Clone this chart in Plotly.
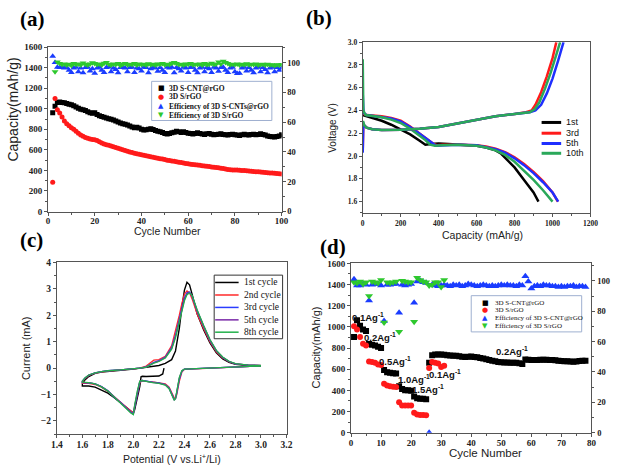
import plotly.graph_objects as go

W, H = 619, 470

# ---------------- Panel (a) data ----------------
a_cycles = list(range(2, 101))
a_cnt_cap = [960, 1025, 1060, 1065, 1062, 1058, 1052, 1045, 1038, 1030,
             1018, 1005, 995, 990, 982, 970, 960, 955, 962, 945,
             932, 925, 918, 910, 902, 898, 890, 882, 872, 862,
             855, 848, 842, 832, 822, 815, 820, 812, 800, 792,
             795, 800, 806, 798, 788, 782, 775, 768, 760, 755,
             760, 766, 772, 780, 776, 770, 776, 770, 762, 758,
             755, 760, 766, 760, 754, 750, 756, 760, 752, 746,
             750, 752, 756, 750, 746, 744, 750, 752, 746, 744,
             740, 746, 752, 746, 744, 750, 752, 746, 750, 756,
             750, 744, 736, 730, 728, 724, 730, 736, 746]
a_srgo_cap = [285, 1100, 990, 958, 920, 882, 855, 835, 815, 800,
              782, 762, 745, 732, 720, 712, 705, 700, 698, 690,
              680, 666, 656, 650, 645, 638, 630, 622, 615, 608,
              600, 593, 587, 580, 574, 568, 563, 558, 553, 548,
              543, 538, 533, 528, 523, 518, 514, 510, 505, 500,
              496, 492, 488, 484, 480, 476, 472, 468, 464, 461,
              458, 455, 452, 449, 446, 443, 440, 437, 434, 431,
              428, 425, 422, 419, 414, 410, 407, 404, 405, 404,
              402, 400, 398, 396, 394, 392, 390, 388, 386, 384,
              382, 380, 378, 376, 374, 372, 370, 368, 366]
a_cnt_eff = [104.4, 100.2, 97, 96.8, 97, 96.5, 96.8, 95, 93.5, 96.5,
             97, 94, 96.5, 93.2, 96.8, 97, 94.5, 96, 93, 96.5,
             97, 95, 93.5, 96.8, 97.2, 94, 96.5, 95.5, 93.2, 96.8,
             97, 96.5, 94, 96.8, 97, 93.5, 96.5, 96, 94.5, 97,
             96.8, 93.2, 96, 97, 96.5, 94.2, 96.8, 95, 93.5, 97,
             96.5, 97, 93.2, 96.8, 96, 94.5, 97, 96.5, 93.5, 96.8,
             97, 95, 93.2, 96.5, 97, 94, 96.8, 96, 93.5, 97,
             96.5, 94.2, 96.8, 97, 95, 93.5, 96.5, 97, 94, 92.8,
             93, 96.5, 97, 94.5, 96.8, 95, 93.2, 96.5, 97, 94,
             96.8, 95.5, 93.2, 96.5, 97, 94, 96.8, 95, 96.5]
a_srgo_eff_cycles = list(range(3, 101))
a_srgo_eff = [94, 100.5, 99.5, 98.8, 99.2, 98.5, 99, 98.2, 99.5, 98.8,
              99.2, 98.5, 99.8, 99, 98.4, 99.2, 100, 99.5, 98.8, 99.2,
              98.5, 99.6, 100.2, 99, 98.4, 99.2, 98.8, 99.5, 98.2, 99,
              99.4, 98.6, 99, 98.8, 99.5, 98.4, 99.2, 98.8, 99, 98.5,
              99.3, 98.7, 99, 98.4, 99.2, 98.9, 99.5, 98.6, 99, 98.8,
              99.6, 100.2, 99.4, 98.8, 99, 98.4, 99.2, 98.9, 99.4, 98.6,
              99, 98.8, 99.2, 98.5, 99.4, 98.7, 99, 99.6, 98.8, 99.2,
              100.4, 99.2, 101, 100.2, 99.5, 98.6, 99, 98.8, 99.2, 98.5,
              99, 98.7, 99.3, 98.6, 99, 98.8, 99.2, 98.5, 98.8, 99,
              98.4, 98.9, 98.5, 98.7, 98.2, 98.6, 98.4, 98.8]
a_names = ["3D S-CNT@rGO", "3D S/rGO", "Efficiency of 3D S-CNTs@rGO", "Efficiency of 3D S/rGO"]

# ---------------- Panel (b) data ----------------
b_names = ["1st", "3rd", "5th", "10th"]
b_dis_cap = {
    "1st": [0, 50, 100, 150, 200, 250, 300, 330, 360, 400, 450, 500, 550, 600, 650, 700, 730, 760, 800, 850, 900, 926],
    "3rd": [0, 4, 20, 60, 100, 150, 200, 250, 300, 340, 370, 390, 420, 500, 600, 650, 700, 750, 800, 850, 900, 950, 1000, 1028],
    "5th": [0, 4, 20, 60, 100, 150, 200, 250, 300, 340, 370, 385, 420, 500, 600, 650, 700, 750, 800, 850, 900, 950, 1000, 1030],
    "10th": [0, 3, 15, 60, 100, 150, 200, 250, 300, 330, 355, 380, 420, 500, 600, 650, 700, 750, 800, 850, 900, 950, 1000],
}
b_dis_v = {
    "1st": [2.36, 2.335, 2.31, 2.275, 2.235, 2.19, 2.135, 2.10, 2.105, 2.11, 2.105, 2.10, 2.095, 2.09, 2.075, 2.05, 2.02, 1.97, 1.90, 1.79, 1.68, 1.60],
    "3rd": [2.42, 2.37, 2.36, 2.355, 2.35, 2.335, 2.31, 2.26, 2.2, 2.15, 2.11, 2.095, 2.1, 2.1, 2.095, 2.085, 2.065, 2.035, 1.99, 1.93, 1.86, 1.78, 1.68, 1.60],
    "5th": [2.55, 2.38, 2.36, 2.35, 2.345, 2.33, 2.305, 2.255, 2.195, 2.15, 2.11, 2.09, 2.095, 2.1, 2.095, 2.08, 2.06, 2.03, 1.98, 1.92, 1.85, 1.77, 1.68, 1.60],
    "10th": [2.85, 2.40, 2.36, 2.35, 2.34, 2.32, 2.29, 2.24, 2.18, 2.14, 2.10, 2.09, 2.095, 2.1, 2.09, 2.075, 2.05, 2.01, 1.95, 1.87, 1.79, 1.70, 1.60],
}
b_chg_cap = {
    "3rd": [0, 3, 8, 20, 50, 100, 200, 300, 400, 500, 600, 700, 800, 860, 890, 910, 940, 970, 1000, 1020],
    "5th": [0, 3, 8, 20, 50, 100, 200, 300, 400, 500, 600, 700, 800, 880, 910, 940, 970, 1000, 1030, 1058],
    "10th": [0, 3, 8, 20, 50, 100, 200, 300, 400, 500, 600, 700, 800, 880, 905, 930, 960, 990, 1020, 1040],
}
b_chg_v = {
    "3rd": [2.05, 2.28, 2.27, 2.25, 2.235, 2.228, 2.232, 2.24, 2.255, 2.285, 2.32, 2.35, 2.37, 2.385, 2.40, 2.45, 2.56, 2.7, 2.86, 3.0],
    "5th": [2.03, 2.29, 2.27, 2.25, 2.235, 2.228, 2.232, 2.24, 2.255, 2.285, 2.32, 2.35, 2.37, 2.385, 2.40, 2.45, 2.55, 2.68, 2.84, 3.0],
    "10th": [2.30, 2.30, 2.27, 2.25, 2.235, 2.228, 2.232, 2.24, 2.255, 2.285, 2.32, 2.35, 2.37, 2.385, 2.41, 2.47, 2.59, 2.73, 2.89, 3.0],
}

# ---------------- Panel (c) data ----------------
c_names = ["1st cycle", "2nd cycle", "3rd cycle", "5th cycle", "8th cycle"]
c_first_pot = [2.24, 2.23, 2.2, 2.15, 2.1, 2.07, 2.06, 2.05, 2.03, 2.01, 2.0, 1.98, 1.95, 1.9, 1.85, 1.8, 1.75, 1.7, 1.65, 1.6,
               1.6, 1.62, 1.65, 1.7, 1.75, 1.8, 1.9, 2.0, 2.1, 2.2, 2.25, 2.3, 2.33, 2.36, 2.38, 2.4, 2.42, 2.44, 2.46, 2.5,
               2.55, 2.6, 2.65, 2.7, 2.75, 2.8, 2.9, 3.0]
c_first_cur = [0.0, -0.22, -0.3, -0.32, -0.32, -0.31, -0.33, -0.7, -1.2, -1.58, -1.7, -1.62, -1.5, -1.3, -1.12, -0.95, -0.82, -0.72, -0.68, -0.68,
               -0.6, -0.45, -0.32, -0.2, -0.15, -0.12, -0.08, -0.04, 0.02, 0.1, 0.18, 0.32, 0.65, 1.5, 2.3, 2.95, 3.25, 3.15, 2.8, 2.05,
               1.45, 0.95, 0.58, 0.35, 0.22, 0.14, 0.1, 0.1]
c_cath_pot = [3.0, 2.9, 2.8, 2.7, 2.6, 2.5, 2.45, 2.4, 2.38, 2.36, 2.34, 2.33, 2.32, 2.3, 2.28, 2.25, 2.2, 2.15, 2.1, 2.07, 2.05,
              2.03, 2.01, 2.0, 1.98, 1.95, 1.9, 1.85, 1.8, 1.75, 1.7, 1.65, 1.6]
c_anod_pot = [1.6, 1.62, 1.65, 1.7, 1.75, 1.8, 1.9, 2.0, 2.05, 2.1, 2.13, 2.16, 2.2, 2.25, 2.3, 2.33, 2.36, 2.38, 2.4, 2.42, 2.44,
              2.46, 2.5, 2.55, 2.6, 2.65, 2.7, 2.75, 2.8, 2.9, 3.0]
c_cath_cur = {
    "2nd cycle": [0.08, 0.06, 0.04, 0.02, 0.0, -0.01, -0.02, -0.05, -0.15, -0.5, -1.0, -1.15, -1.12, -0.9, -0.72, -0.6, -0.55, -0.52, -0.5, -0.48, -0.55,
                  -1.0, -1.5, -1.7, -1.62, -1.5, -1.28, -1.08, -0.88, -0.72, -0.62, -0.58, -0.58],
    "3rd cycle": [0.08, 0.06, 0.04, 0.02, 0.0, -0.01, -0.02, -0.04, -0.12, -0.42, -0.95, -1.15, -1.18, -0.95, -0.75, -0.62, -0.56, -0.53, -0.5, -0.47, -0.52,
                  -0.95, -1.45, -1.72, -1.66, -1.52, -1.3, -1.1, -0.86, -0.7, -0.6, -0.56, -0.55],
    "5th cycle": [0.08, 0.06, 0.04, 0.02, 0.0, -0.01, -0.02, -0.04, -0.1, -0.38, -0.9, -1.15, -1.2, -0.98, -0.77, -0.63, -0.57, -0.54, -0.5, -0.47, -0.5,
                  -0.9, -1.42, -1.74, -1.68, -1.54, -1.32, -1.1, -0.86, -0.7, -0.6, -0.55, -0.54],
    "8th cycle": [0.08, 0.06, 0.04, 0.02, 0.0, -0.01, -0.02, -0.04, -0.1, -0.35, -0.88, -1.15, -1.22, -1.0, -0.78, -0.64, -0.58, -0.55, -0.51, -0.47, -0.5,
                  -0.88, -1.4, -1.76, -1.7, -1.56, -1.34, -1.12, -0.87, -0.71, -0.6, -0.55, -0.53],
}
c_anod_cur = {
    "2nd cycle": [-0.52, -0.4, -0.28, -0.19, -0.14, -0.11, -0.07, -0.03, 0.0, 0.08, 0.2, 0.3, 0.32, 0.45, 0.85, 1.4, 2.0, 2.45, 2.8, 2.92, 2.85,
                  2.62, 2.05, 1.5, 1.0, 0.62, 0.38, 0.24, 0.16, 0.11, 0.09],
    "3rd cycle": [-0.5, -0.38, -0.27, -0.18, -0.13, -0.1, -0.07, -0.03, 0.0, 0.05, 0.14, 0.22, 0.28, 0.42, 0.78, 1.25, 1.85, 2.3, 2.65, 2.85, 2.88,
                  2.72, 2.15, 1.58, 1.05, 0.65, 0.4, 0.25, 0.16, 0.11, 0.09],
    "5th cycle": [-0.5, -0.38, -0.26, -0.18, -0.13, -0.1, -0.07, -0.03, 0.0, 0.04, 0.12, 0.2, 0.26, 0.4, 0.74, 1.2, 1.8, 2.25, 2.6, 2.82, 2.86,
                  2.74, 2.18, 1.6, 1.07, 0.66, 0.41, 0.25, 0.16, 0.11, 0.09],
    "8th cycle": [-0.5, -0.37, -0.26, -0.18, -0.13, -0.1, -0.07, -0.03, 0.0, 0.04, 0.11, 0.19, 0.25, 0.38, 0.72, 1.15, 1.75, 2.2, 2.55, 2.78, 2.84,
                  2.75, 2.2, 1.62, 1.08, 0.67, 0.42, 0.26, 0.17, 0.11, 0.09],
}

# ---------------- Panel (d) data ----------------
d_cycles = list(range(1, 79))
d_cnt_cap = [905, 1062, 1010, 975, 960, 838, 832, 825, 812, 800,
             592, 572, 566, 562, 560, 440, 412, 402, 400, 396,
             342, 326, 320, 320, 316, 660, 732, 740, 740, 738,
             736, 733, 730, 728, 726, 722, 718, 716, 718, 720,
             716, 712, 706, 700, 694, 686, 680, 674, 668, 666,
             664, 664, 662, 660, 660, 656, 650, 692, 690, 686,
             686, 688, 690, 690, 690, 688, 686, 684, 680, 678,
             676, 674, 672, 670, 672, 678, 680, 680]
d_srgo_cycles = list(range(1, 32))
d_srgo_cap = [1005, 975, 905, 840, 825, 672, 668, 660, 645, 640,
              462, 445, 438, 435, 432, 288, 258, 256, 256, 258,
              188, 172, 168, 168, 166, 612, 668, 660, 655, 622, 632]
d_cnt_eff = [101, 97, 97, 98, 97.5, 87, 97.5, 98, 98, 97,
             73.5, 97.5, 97.5, 98, 98, 79, 97.5, 97, 97.5, 98,
             85.5, 99.5, 100, 99, 98.5, 0, 97.5, 97, 96.5, 97,
             97.5, 97, 96.5, 97.5, 97, 97.5, 96.5, 97, 98, 97.5,
             97, 96.5, 97, 97.5, 97, 96.5, 97, 96.5, 97, 97.5,
             97, 97.5, 97, 97, 96.5, 97.5, 97, 103, 99.5, 95,
             96.5, 97, 96.5, 97.5, 97, 97, 96.5, 96.5, 96, 96.5,
             96, 96.5, 96.5, 97, 96, 96.5, 96.5, 96]
d_srgo_eff = [99, 98.5, 99.5, 98, 99, 90, 99.5, 99, 98.5, 100.5,
              72.5, 99, 98.5, 99, 99.5, 66.5, 100, 99.5, 99, 99,
              73, 102, 100.5, 99.5, 99, 97, 97.5, 99, 99, 96, 100.5]
d_names = ["3D S-CNT@rGO", "3D S/rGO", "Efficiency of 3D S-CNT@rGO", "Efficiency of 3D S/rGO"]
d_rate_labels = ["0.1Ag<sup>-1</sup>", "0.2Ag<sup>-1</sup>", "0.5Ag<sup>-1</sup>", "1.0Ag<sup>-1</sup>",
                 "1.5Ag<sup>-1</sup>", "0.1Ag<sup>-1</sup>", "0.2Ag<sup>-1</sup>"]
d_rate_label_pos = [(5.8, 1095), (9.5, 900), (14.8, 682), (20.9, 512), (25.7, 414), (31.3, 558), (53.6, 775)]

# ---------------- styling ----------------
BLACK, RED, BLUE, GREEN = "#000000", "#ff1a1a", "#1a3cff", "#2ec82e"
B_COLORS = {"1st": "#000000", "3rd": "#ff1a1a", "5th": "#1f2fff", "10th": "#2aa85a"}
C_COLORS = {"1st cycle": "#000000", "2nd cycle": "#ff2a2a", "3rd cycle": "#2a3cff",
            "5th cycle": "#7a2aa8", "8th cycle": "#22b04a"}
AXC = "#555555"
SERIF = "Liberation Serif"
SANS = "Liberation Sans"


def px(x):
    return x / W


def py(y):
    return 1 - y / H


def dom_x(l, r):
    return [px(l), px(r)]


def dom_y(t, b):
    return [py(b), py(t)]


def axis(domain, rng, anchor, dtick, fsize, minor=None, fmt=None, **kw):
    d = dict(domain=domain, range=rng, anchor=anchor, dtick=dtick, tick0=0,
             showline=True, linecolor=AXC, linewidth=1, mirror=True,
             ticks="outside", ticklen=3, tickcolor=AXC, tickwidth=1,
             showgrid=False, zeroline=False,
             tickfont=dict(family=SERIF, size=fsize, color="#222", weight="bold"))
    if minor:
        d["minor"] = dict(dtick=minor, ticks="outside", ticklen=2, tickcolor=AXC, showgrid=False)
    if fmt:
        d["tickformat"] = fmt
    d.update(kw)
    return d


fig = go.Figure()

# ---- (a) traces ----
fig.add_trace(go.Scatter(x=a_cycles, y=a_cnt_cap, mode="markers", name=a_names[0],
                         marker=dict(symbol="square", size=5, color=BLACK), xaxis="x", yaxis="y"))
fig.add_trace(go.Scatter(x=a_cycles, y=a_srgo_cap, mode="markers", name=a_names[1],
                         marker=dict(symbol="circle", size=5, color=RED), xaxis="x", yaxis="y"))
fig.add_trace(go.Scatter(x=a_cycles, y=a_cnt_eff, mode="markers", name=a_names[2],
                         marker=dict(symbol="triangle-up", size=6, color=BLUE), xaxis="x", yaxis="y2"))
fig.add_trace(go.Scatter(x=a_srgo_eff_cycles, y=a_srgo_eff, mode="markers", name=a_names[3],
                         marker=dict(symbol="triangle-down", size=6, color=GREEN), xaxis="x", yaxis="y2"))

# ---- (b) traces ----
for n in b_names:
    fig.add_trace(go.Scatter(x=b_dis_cap[n], y=b_dis_v[n], mode="lines", name=n,
                             line=dict(color=B_COLORS[n], width=2.5), xaxis="x2", yaxis="y3"))
for n in ["3rd", "5th", "10th"]:
    fig.add_trace(go.Scatter(x=b_chg_cap[n], y=b_chg_v[n], mode="lines", name=n,
                             line=dict(color=B_COLORS[n], width=2.5), xaxis="x2", yaxis="y3"))

# ---- (c) traces ----
fig.add_trace(go.Scatter(x=c_first_pot, y=c_first_cur, mode="lines", name=c_names[0],
                         line=dict(color=C_COLORS[c_names[0]], width=1.4), xaxis="x3", yaxis="y4"))
for n in c_names[1:]:
    fig.add_trace(go.Scatter(x=c_cath_pot + c_anod_pot, y=c_cath_cur[n] + c_anod_cur[n], mode="lines", name=n,
                             line=dict(color=C_COLORS[n], width=1.3), xaxis="x3", yaxis="y4"))

# ---- (d) traces ----
fig.add_trace(go.Scatter(x=d_cycles, y=d_cnt_cap, mode="markers", name=d_names[0],
                         marker=dict(symbol="square", size=6, color=BLACK), xaxis="x4", yaxis="y5"))
fig.add_trace(go.Scatter(x=d_srgo_cycles, y=d_srgo_cap, mode="markers", name=d_names[1],
                         marker=dict(symbol="circle", size=6, color=RED), xaxis="x4", yaxis="y5"))
fig.add_trace(go.Scatter(x=d_cycles, y=d_cnt_eff, mode="markers", name=d_names[2],
                         marker=dict(symbol="triangle-up", size=7, color=BLUE), xaxis="x4", yaxis="y6"))
fig.add_trace(go.Scatter(x=d_srgo_cycles, y=d_srgo_eff, mode="markers", name=d_names[3],
                         marker=dict(symbol="triangle-down", size=7, color=GREEN), xaxis="x4", yaxis="y6"))

annotations = []
shapes = []


def text(x, y, s, size, family=SANS, bold=False, angle=0, xanchor="center", color="#222", **kw):
    d = dict(x=px(x), y=py(y), xref="paper", yref="paper", text=s, showarrow=False,
             xanchor=xanchor, yanchor="middle", textangle=angle,
             font=dict(family=family, size=size, color=color, weight="bold" if bold else "normal"))
    d.update(kw)
    annotations.append(d)


# panel labels
text(27, 14, "(a)", 21, SERIF, True, color="#000")
text(320, 13, "(b)", 21, SERIF, True, color="#000")
text(26, 240, "(c)", 21, SERIF, True, color="#000")
text(335, 247, "(d)", 21, SERIF, True, color="#000")

# axis titles
text(165, 231, "Cycle Number", 10.5)
text(7, 107, "Capacity(mAh/g)", 14, angle=-90)
text(334, 126, "Voltage (V)", 10, angle=-90)
text(488, 235, "Capacity (mAh/g)", 10.5)
text(20, 351, "Current (mA)", 11, angle=-90)
text(170, 463.5, "Potential (V vs.Li<sup>+</sup>/Li)", 10.5)
text(317, 350, "Capacity(mAh/g)", 11, angle=-90)
text(491, 458, "Cycle Number", 11.5)


# manual legends
def marker_legend(names, colors, syms, box, ys, sym_x, text_x, fsize, bold, border):
    l, t, r, b = box
    shapes.append(dict(type="rect", xref="paper", yref="paper", x0=px(l), x1=px(r), y0=py(b), y1=py(t),
                       line=dict(color=border, width=1), fillcolor="white", layer="above"))
    for n, c, s, yy in zip(names, colors, syms, ys):
        text(sym_x, yy, s, 7, "DejaVu Sans", color=c)
        text(text_x, yy, n, fsize, SERIF, bold, xanchor="left", color="#111")


marker_legend(a_names, [BLACK, RED, BLUE, GREEN], ["■", "●", "▲", "▼"],
              (149, 78, 272, 118), [85, 94, 103.3, 112.5], 159, 165, 7.5, True, "#9fb0d0")
marker_legend(d_names, [BLACK, RED, BLUE, GREEN], ["■", "●", "▲", "▼"],
              (476, 297, 589, 334), [304, 312, 320, 328], 490.5, 498, 7, False, "#9fb0d0")

# (b) legend (no frame)
for n, yy in zip(b_names, [120, 131, 141.5, 151.5]):
    shapes.append(dict(type="line", xref="paper", yref="paper", x0=px(548), x1=px(568), y0=py(yy), y1=py(yy),
                       line=dict(color=B_COLORS[n], width=3)))
    text(571, yy, n, 9, SANS, xanchor="left", color="#111")

# (c) legend
shapes.append(dict(type="rect", xref="paper", yref="paper", x0=px(213), x1=px(283), y0=py(341), y1=py(276),
                   line=dict(color="#333", width=1), fillcolor="white", layer="above"))
for n, yy in zip(c_names, [283.5, 296.3, 309, 321.7, 334.3]):
    shapes.append(dict(type="line", xref="paper", yref="paper", x0=px(214), x1=px(238), y0=py(yy), y1=py(yy),
                       line=dict(color=C_COLORS[n], width=1.5)))
    text(241, yy, n, 9.5, SERIF, xanchor="left", color="#111")

# (d) rate labels in data coords
for s, (xx, yy) in zip(d_rate_labels, d_rate_label_pos):
    annotations.append(dict(x=xx, y=yy, xref="x4", yref="y5", text=s, showarrow=False,
                            xanchor="center", yanchor="middle",
                            font=dict(family=SANS, size=9.5, color="#111", weight="bold")))

fig.update_layout(
    width=W, height=H, margin=dict(l=0, r=0, t=0, b=0),
    paper_bgcolor="white", plot_bgcolor="white", showlegend=False,
    # (a)
    xaxis=axis(dom_x(43, 282), [0, 100], "y", 20, 9, minor=10, ticklabelstandoff=-2),
    yaxis=axis(dom_y(43, 211), [0, 1600], "x", 200, 9, minor=100),
    yaxis2=axis(dom_y(43, 211), [0, 110.5], "x", 20, 8.5, minor=10, overlaying="y", side="right", mirror=False),
    # (b)
    xaxis2=axis(dom_x(365, 598), [0, 1200], "y3", 200, 7.5, minor=100),
    yaxis3=axis(dom_y(38, 212.5), [1.5, 3.0], "x2", 0.2, 7.5, minor=0.1, fmt=".1f"),
    # (c)
    xaxis3=axis(dom_x(52, 287), [1.4, 3.2], "y4", 0.2, 9.5, minor=0.1, fmt=".1f", ticklabelstandoff=-2),
    yaxis4=axis(dom_y(263, 438.5), [-2.5, 4], "x3", 1, 9.5, minor=0.5),
    # (d)
    xaxis4=axis(dom_x(353, 599), [0, 80], "y5", 10, 9, minor=5, ticklabelstandoff=-2),
    yaxis5=axis(dom_y(264, 437), [0, 1600], "x4", 200, 9, minor=100),
    yaxis6=axis(dom_y(264, 437), [0, 111.5], "x4", 20, 8.5, minor=10, overlaying="y5", side="right", mirror=False),
    annotations=annotations,
    shapes=shapes,
)

fig.write_html("out.html", config={"displayModeBar": False},
               post_script="document.body.style.margin='0';document.body.style.overflow='hidden';")
